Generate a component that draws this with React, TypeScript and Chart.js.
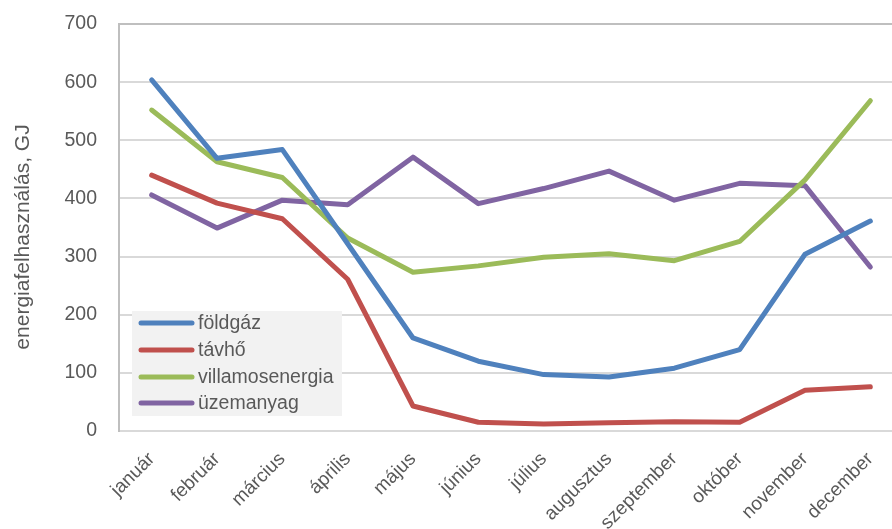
import React, { useEffect, useRef } from "react";
import { Chart, registerables } from "chart.js";

Chart.register(...registerables);

const months = [
  "január", "február", "március", "április", "május", "június",
  "július", "augusztus", "szeptember", "október", "november", "december",
];
const foldgaz = [604, 469, 484, 322, 160, 120, 97, 93, 108, 140, 304, 361];
const tavho = [440, 392, 365, 261, 43, 15, 12, 14, 16, 15, 70, 76];
const villamosenergia = [552, 463, 436, 332, 273, 284, 299, 305, 293, 326, 432, 568];
const uzemanyag = [406, 349, 397, 389, 471, 391, 417, 447, 397, 426, 422, 282];
const seriesNames = ["földgáz", "távhő", "villamosenergia", "üzemanyag"];
const seriesColors = ["#4f81bd", "#c0504d", "#9bbb59", "#8064a2"];
const yTitle = "energiafelhasználás, GJ";

const FONT = "'Liberation Sans', Arial, sans-serif";

const overlayPlugin = {
  id: "overlay",
  afterDraw(chart: any) {
    const ctx = chart.ctx;
    ctx.save();
    // y axis title
    ctx.translate(23, 237);
    ctx.rotate(-Math.PI / 2);
    ctx.font = `21px ${FONT}`;
    ctx.fillStyle = "#595959";
    ctx.textAlign = "center";
    ctx.textBaseline = "middle";
    ctx.fillText(yTitle, 0, 0);
    ctx.restore();

    // legend
    ctx.save();
    ctx.fillStyle = "#f2f2f2";
    ctx.fillRect(132, 311, 210, 105);
    const ys = [323, 350, 377, 403];
    chart.data.datasets.forEach((ds: any, i: number) => {
      ctx.strokeStyle = ds.borderColor;
      ctx.lineWidth = 5;
      ctx.lineCap = "round";
      ctx.beginPath();
      ctx.moveTo(141, ys[i]);
      ctx.lineTo(192, ys[i]);
      ctx.stroke();
      ctx.fillStyle = "#595959";
      ctx.font = `19.5px ${FONT}`;
      ctx.textAlign = "left";
      ctx.textBaseline = "middle";
      ctx.fillText(ds.label, 198, ys[i] + 1);
    });
    ctx.restore();
  },
};

export default function App() {
  const ref = useRef<HTMLCanvasElement>(null);
  useEffect(() => {
    if (!ref.current) return;
    const data = [foldgaz, tavho, villamosenergia, uzemanyag];
    const chart = new Chart(ref.current, {
      type: "line",
      data: {
        labels: months,
        datasets: data.map((d, i) => ({
          label: seriesNames[i],
          data: d,
          borderColor: seriesColors[i],
          backgroundColor: seriesColors[i],
          borderWidth: 5,
          pointRadius: 0,
          borderCapStyle: "round" as const,
          borderJoinStyle: "round" as const,
          tension: 0,
        })),
      },
      options: {
        responsive: false,
        animation: false,
        devicePixelRatio: 1,
        layout: { padding: { top: 24, left: 0, right: 2, bottom: 0 } },
        plugins: { legend: { display: false }, tooltip: { enabled: false } },
        scales: {
          x: {
            offset: true,
            grid: { display: false, drawTicks: false },
            border: { display: true, color: "#d9d9d9", width: 2 },
            ticks: {
              color: "#595959",
              font: { family: FONT, size: 19 },
              minRotation: 45,
              maxRotation: 45,
              padding: 17,
              autoSkip: false,
            },
            afterFit: (s: any) => {
              s.height = 98;
              s.paddingLeft = 0;
              s.paddingRight = 0;
            },
          },
          y: {
            min: 0,
            max: 700,
            grid: {
              color: (c: any) => (c.tick && c.tick.value === 700 ? "#bfbfbf" : "#d9d9d9"),
              lineWidth: 2,
              drawTicks: false,
            },
            border: { display: true, color: "#bfbfbf", width: 2 },
            ticks: {
              stepSize: 100,
              color: "#595959",
              font: { family: FONT, size: 19.5 },
              padding: 22,
            },
            afterFit: (s: any) => {
              s.width = 119;
              s.paddingTop = 0;
              s.paddingBottom = 0;
            },
          },
        },
      },
      plugins: [overlayPlugin],
    });
    return () => chart.destroy();
  }, []);
  return (
    <div
      style={{
        position: "fixed",
        left: 0,
        top: 0,
        width: 892,
        height: 529,
        overflow: "hidden",
        background: "#fff",
      }}
    >
      <canvas ref={ref} width={905} height={529} style={{ display: "block" }} />
    </div>
  );
}
